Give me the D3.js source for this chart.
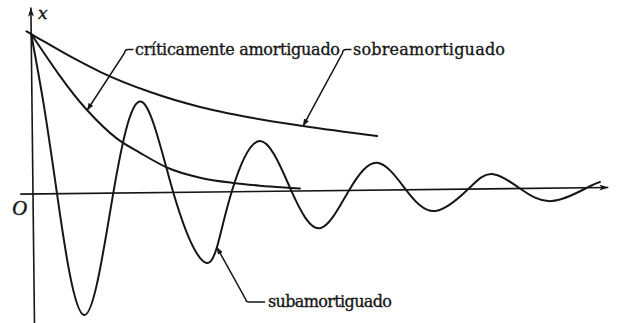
<!DOCTYPE html>
<html>
<head>
<meta charset="utf-8">
<script src="https://cdn.jsdelivr.net/npm/d3@7"></script>
<style>
  html, body { margin: 0; padding: 0; background: #fff; overflow: hidden; }
  svg { display: block; }
</style>
</head>
<body>
<svg id="chart" width="619" height="323"></svg>
<script>
// Displacement x(t) of a damped oscillator released from rest at x = 1.
// Time t in arbitrary units, displacement normalised to the initial value.

// Underdamped: start, zero crossings, extrema and a few flank points
const underT = [0, 0.19, 0.414, 0.855, 1.384, 1.892, 2.419, 2.896, 3.162, 3.426, 3.924, 4.457,
                4.941, 5.448, 5.941, 6.431, 6.928, 7.505, 7.912, 8.397, 8.941, 9.552, 9.777];
const underX = [1.0, 0.587, 0, -0.76, 0, 0.569, 0, -0.424, -0.344, 0, 0.315, 0,
                -0.234, 0, 0.171, 0, -0.135, 0, 0.093, 0, -0.081, 0, 0.035];

// Critically damped
const critT = [0, 0.947, 1.459, 1.853, 2.333, 2.883, 3.45, 3.915, 4.43, 4.603];
const critX = [1.0, 0.521, 0.34, 0.25, 0.153, 0.09, 0.055, 0.036, 0.02, 0.015];

// Overdamped
const overT = [-0.08, 0, 0.75, 1.18, 2.04, 2.897, 3.757, 4.669, 5.943];
const overX = [1.017, 1.0, 0.841, 0.759, 0.629, 0.532, 0.463, 0.406, 0.338];

// Curve names and the time at which each leader touches its curve
const labelNames = ["críticamente amortiguado", "sobreamortiguado", "subamortiguado"];
const labelTipT = [0.95, 4.67, 3.16];

// Axis names
const axisNames = ["x", "O"];

const W = 619, H = 323;
const svg = d3.select("#chart");

// The drawing sits on a slightly turned sheet
const origin = [33, 194];
const tiltDeg = -0.65;
const tiltRad = tiltDeg * Math.PI / 180;
function toFrame([px, py]) {
  const dx = px - origin[0], dy = py - origin[1];
  const c = Math.cos(-tiltRad), s = Math.sin(-tiltRad);
  return [origin[0] + dx * c - dy * s, origin[1] + dx * s + dy * c];
}

const xScale = d3.scaleLinear().domain([0, 10]).range([33, 613]);
const yScale = d3.scaleLinear().domain([-1, 1]).range([354, 34]);

const ink = "#161616";

const defs = svg.append("defs");
defs.append("marker")
  .attr("id", "tip")
  .attr("viewBox", "0 -4 10 8")
  .attr("refX", 10).attr("refY", 0)
  .attr("markerUnits", "userSpaceOnUse")
  .attr("markerWidth", 7).attr("markerHeight", 5.6)
  .attr("orient", "auto")
  .append("path").attr("d", "M0,-4L10,0L0,4Z").attr("fill", ink);
defs.append("marker")
  .attr("id", "axisTip")
  .attr("viewBox", "0 -4 12 8")
  .attr("refX", 12).attr("refY", 0)
  .attr("markerUnits", "userSpaceOnUse")
  .attr("markerWidth", 10).attr("markerHeight", 6)
  .attr("orient", "auto")
  .append("path").attr("d", "M0,-4L12,0L0,4L3,0Z").attr("fill", ink);

const g = svg.append("g")
  .attr("transform", `rotate(${tiltDeg},${origin[0]},${origin[1]})`);

// Axes
const tRange = [-0.22, 9.92];
const xRange = [-0.82, 1.165];
g.append("line")
  .attr("x1", xScale(tRange[0])).attr("y1", yScale(0))
  .attr("x2", xScale(tRange[1])).attr("y2", yScale(0))
  .attr("stroke", ink).attr("stroke-width", 1.6)
  .attr("marker-end", "url(#axisTip)");
g.append("line")
  .attr("x1", xScale(0)).attr("y1", yScale(xRange[0]))
  .attr("x2", xScale(0)).attr("y2", yScale(xRange[1]))
  .attr("stroke", ink).attr("stroke-width", 1.6)
  .attr("marker-end", "url(#axisTip)");

// Curves
const pairs = (ts, xs) => ts.map((t, i) => [t, xs[i]]);
const lineMono = d3.line().x(d => xScale(d[0])).y(d => yScale(d[1])).curve(d3.curveMonotoneX);
const lineNat = d3.line().x(d => xScale(d[0])).y(d => yScale(d[1])).curve(d3.curveNatural);

const curves = [
  g.append("path").attr("d", lineMono(pairs(critT, critX))),
  g.append("path").attr("d", lineMono(pairs(overT, overX))),
  g.append("path").attr("d", lineNat(pairs(underT, underX)))
];
curves.forEach(p => p.attr("fill", "none").attr("stroke", ink).attr("stroke-width", 2)
  .attr("stroke-linejoin", "round").attr("stroke-linecap", "round"));

// Point on a drawn curve at time t
function pointAt(pathSel, t) {
  const node = pathSel.node();
  const target = xScale(t);
  let lo = 0, hi = node.getTotalLength();
  for (let i = 0; i < 40; i++) {
    const mid = (lo + hi) / 2;
    if (node.getPointAtLength(mid).x < target) lo = mid; else hi = mid;
  }
  const p = node.getPointAtLength(lo);
  return [p.x, p.y];
}

// Labels with hooked leaders
const labelLayout = [
  { text: [135, 54.5], width: 205, dash: [[133.5, 49.5], [128, 49.5]], bend: [124.5, 53] },
  { text: [353, 54.5], width: 152, dash: [[351.5, 49.5], [346, 49.5]], bend: [342.5, 53] },
  { text: [268, 307], width: 124, dash: [[265, 302], [249, 302]], bend: [245.5, 299] }
];

labelNames.forEach((name, i) => {
  const L = labelLayout[i];
  const a = toFrame(L.dash[0]), b = toFrame(L.dash[1]), c = toFrame(L.bend);
  const tip = pointAt(curves[i], labelTipT[i]);
  const p = d3.path();
  p.moveTo(a[0], a[1]);
  p.lineTo(b[0], b[1]);
  p.quadraticCurveTo(c[0] + (b[0] - c[0]) * 0.1, b[1], c[0], c[1]);
  p.lineTo(tip[0], tip[1]);
  g.append("path").attr("d", p.toString())
    .attr("fill", "none").attr("stroke", ink).attr("stroke-width", 1.5)
    .attr("marker-end", "url(#tip)");

  svg.append("text")
    .attr("x", L.text[0]).attr("y", L.text[1])
    .attr("textLength", L.width).attr("lengthAdjust", "spacing")
    .attr("font-family", "'DejaVu Serif', serif")
    .attr("font-size", 16)
    .attr("fill", ink)
    .attr("stroke", ink).attr("stroke-width", 0.35)
    .text(name);
});

// Axis names
svg.append("text")
  .attr("x", 38).attr("y", 19)
  .attr("font-family", "'DejaVu Serif', serif")
  .attr("font-style", "italic")
  .attr("font-size", 17)
  .attr("fill", ink)
  .attr("stroke", ink).attr("stroke-width", 0.4)
  .text(axisNames[0]);
svg.append("text")
  .attr("x", 12).attr("y", 215)
  .attr("font-family", "'Liberation Serif', serif")
  .attr("font-style", "italic")
  .attr("font-size", 21)
  .attr("fill", ink)
  .attr("stroke", ink).attr("stroke-width", 0.4)
  .text(axisNames[1]);
</script>
</body>
</html>
